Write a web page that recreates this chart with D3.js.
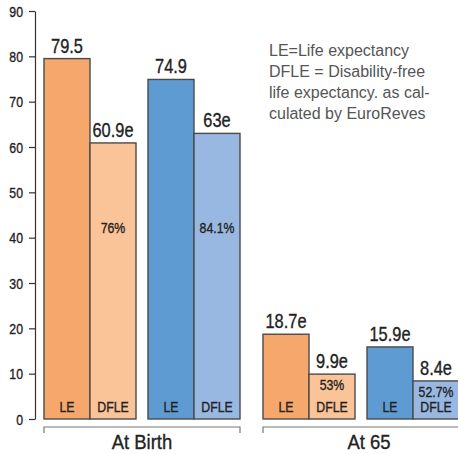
<!DOCTYPE html>
<html>
<head>
<meta charset="utf-8">
<script src="https://cdn.jsdelivr.net/npm/d3@7"></script>
<style>
  body { margin: 0; background: #fff; }
  #graph { width: 458px; height: 454px; }
  .num { font-family: "Liberation Sans", Arial, sans-serif; }
</style>
</head>
<body>
<div id="graph"></div>
<script>
// data
var groups = ["At Birth", "At 65"];
var sexes = ["Women", "Men"];
var measures = ["LE", "DFLE"];
var leValues = [79.5, 74.9, 18.7, 15.9];
var dfleValues = [60.9, 63, 9.9, 8.4];
var leLabels = ["79.5", "74.9", "18.7e", "15.9e"];
var dfleLabels = ["60.9e", "63e", "9.9e", "8.4e"];
var pctLabels = ["76%", "84.1%", "53%", "52.7%"];
var yTicks = [0, 10, 20, 30, 40, 50, 60, 70, 80, 90];
var legendLines = ["LE=Life expectancy", "DFLE = Disability-free", "life expectancy. as cal-", "culated by EuroReves"];

var colors = {
    Women: { LE: "#f6a76b", DFLE: "#fbc398" },
    Men: { LE: "#5f9bd3", DFLE: "#98b8e1" }
};

// no narrow font installed, so squeeze Liberation Sans horizontally
function narrow(sel, xf, yf, size, sx) {
    sel.attr("class", "num")
        .attr("transform", function (d, i) {
            return "translate(" + xf(d, i) + "," + yf(d, i) + ") scale(" + (sx || 0.82) + ",1)";
        })
        .style("font-size", size + "px")
        .attr("fill", "#222")
        .attr("stroke", "#222")
        .attr("stroke-width", 0.35);
}

function makeGraph() {
    var svg = d3.select("#graph").append("svg")
        .attr("width", 458)
        .attr("height", 454);

    var y = d3.scaleLinear().domain([0, 90]).range([419, 11]);

    var x0 = d3.scaleBand().domain(groups).range([44, 459]).paddingInner(23 / 219);
    var x1 = d3.scaleBand().domain(sexes).range([0, x0.bandwidth()]).paddingInner(12 / 104);
    var x2 = d3.scaleBand().domain(measures).range([0, x1.bandwidth()]);

    // flatten into bars
    var bars = [];
    groups.forEach(function (g, gi) {
        sexes.forEach(function (s, si) {
            var i = gi * 2 + si;
            bars.push({ group: g, sex: s, measure: "LE", value: leValues[i], label: leLabels[i] });
            bars.push({ group: g, sex: s, measure: "DFLE", value: dfleValues[i], label: dfleLabels[i], pct: pctLabels[i] });
        });
    });
    bars.forEach(function (d) {
        d.x = x0(d.group) + x1(d.sex) + x2(d.measure);
        d.cx = d.x + x2.bandwidth() / 2;
    });

    // y axis
    var yAxis = svg.append("g")
        .attr("transform", "translate(35,0)")
        .call(d3.axisLeft(y).tickValues(yTicks).tickSize(6).tickSizeOuter(0).tickPadding(5));
    yAxis.select(".domain").attr("stroke", "#333").attr("stroke-width", 1.2);
    yAxis.selectAll(".tick line").attr("stroke", "#333").attr("stroke-width", 1.2);
    yAxis.selectAll(".tick text")
        .attr("x", null)
        .attr("dy", "0.35em")
        .call(narrow, function () { return -12; }, function () { return 0; }, 15);

    // bars
    svg.selectAll("rect.bar").data(bars).enter().append("rect")
        .attr("class", "bar")
        .attr("x", function (d) { return d.x; })
        .attr("y", function (d) { return y(d.value); })
        .attr("width", x2.bandwidth())
        .attr("height", function (d) { return y(0) - y(d.value); })
        .attr("fill", function (d) { return colors[d.sex][d.measure]; })
        .attr("stroke", "#4a4a4a")
        .attr("stroke-width", 1.4);

    // value labels on top
    svg.selectAll("text.val").data(bars).enter().append("text")
        .attr("text-anchor", "middle")
        .call(narrow, function (d) { return d.cx; }, function (d) { return y(d.value) - 6; }, 20)
        .text(function (d) { return d.label; });

    // LE / DFLE inside bars
    svg.selectAll("text.meas").data(bars).enter().append("text")
        .attr("text-anchor", "middle")
        .call(narrow, function (d) { return d.cx; }, function () { return y(0) - 7; }, 15)
        .text(function (d) { return d.measure; });

    // DFLE share of LE
    svg.selectAll("text.pct").data(bars.filter(function (d) { return d.pct; })).enter().append("text")
        .attr("text-anchor", "middle")
        .call(narrow, function (d) { return d.cx; }, function (d) { return Math.max(y(d.value) + 16, y(41)); }, 15)
        .text(function (d) { return d.pct; });

    // group brackets
    svg.selectAll("path.bracket").data(groups).enter().append("path")
        .attr("d", function (g) {
            var a = x0(g), b = x0(g) + x0.bandwidth();
            return "M" + a + ",433V427H" + b + "V433";
        })
        .attr("fill", "none")
        .attr("stroke", "#777")
        .attr("stroke-width", 1.2);

    svg.selectAll("text.grp").data(groups).enter().append("text")
        .attr("text-anchor", "middle")
        .call(narrow, function (g, i) { return x0(g) + x0.bandwidth() / 2 + (i ? 8 : 0); }, function () { return 449; }, 21, 0.88)
        .text(function (g) { return g; });

    // note
    svg.append("g").selectAll("text").data(legendLines).enter().append("text")
        .attr("x", 269)
        .attr("y", function (d, i) { return 56 + i * 21; })
        .style("font-family", "'Liberation Sans', Arial, sans-serif")
        .style("font-size", "16px")
        .attr("fill", "#555")
        .text(function (d) { return d; });
}

makeGraph();
</script>
</body>
</html>
